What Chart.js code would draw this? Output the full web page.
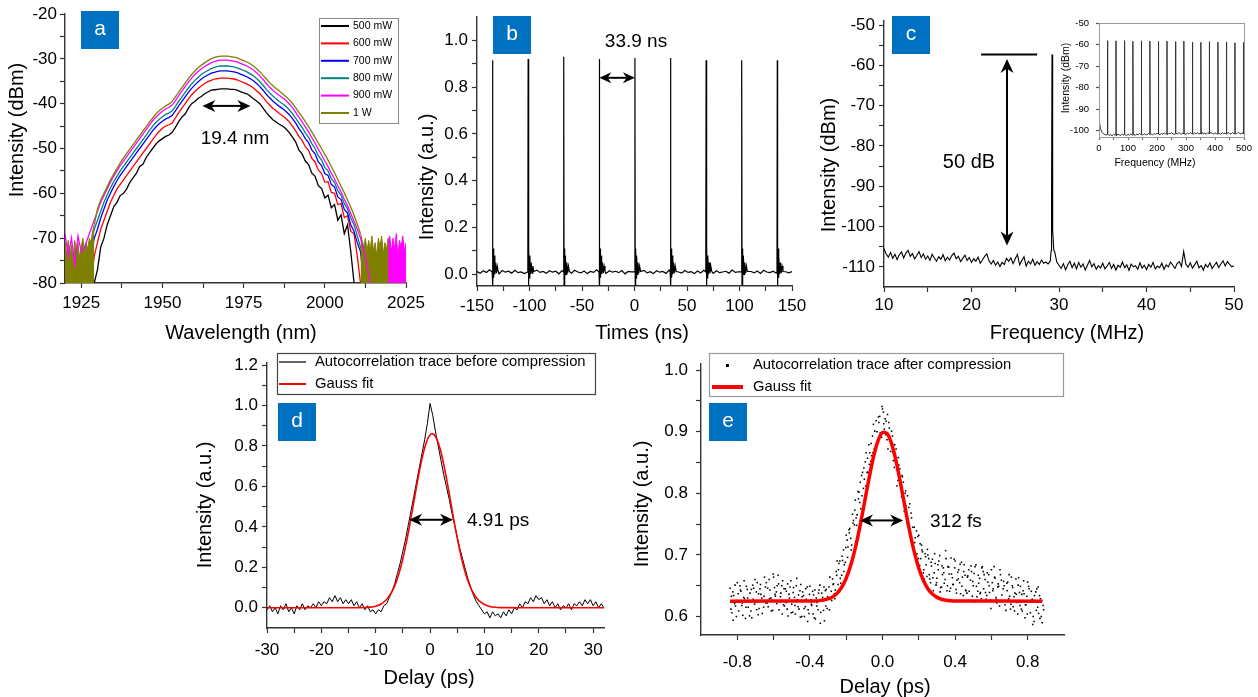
<!DOCTYPE html>
<html>
<head>
<meta charset="utf-8">
<script src="https://cdn.jsdelivr.net/npm/chart.js@4.4.1/dist/chart.umd.min.js"></script>
<style>
  html, body { margin: 0; padding: 0; background: #fff; }
  #page { position: relative; width: 1258px; height: 697px; overflow: hidden; background: #fff; }
  canvas { position: absolute; }
</style>
</head>
<body>
<div id="page">
  <canvas id="panelA" width="430" height="345" style="left:0px;top:0px"></canvas>
  <canvas id="panelB" width="410" height="345" style="left:400px;top:0px"></canvas>
  <canvas id="panelC" width="448" height="345" style="left:810px;top:0px"></canvas>
  <canvas id="panelInset" width="218" height="160" style="left:1040px;top:10px"></canvas>
  <canvas id="panelD" width="440" height="352" style="left:180px;top:345px"></canvas>
  <canvas id="panelE" width="450" height="352" style="left:620px;top:345px"></canvas>
</div>
<script>
// ------- (a) spectra vs pump power -------
const wlStart = 1920;
const aNames = ["500 mW", "600 mW", "700 mW", "800 mW", "900 mW", "1 W"];
const aColors = ["#000000", "#ff0000", "#0000ff", "#008080", "#ff00ff", "#808000"];
const aP500 = [null, null, null, null, null, null, null, null, null,
  -80, -77, -72, -70, -67, -65, -63, -62, -60.5, -60,
  -59, -57.5, -56.5, -55.5, -54, -53.5, -52, -51, -50, -49,
  -48.3, -47.8, -47.3, -47, -46.4, -45.3, -44, -43, -42.3, -41,
  -40, -39.5, -38.8, -38.4, -37.8, -37.4, -37, -36.9, -36.8, -36.7,
  -36.7, -36.7, -36.8, -36.8, -37, -37.3, -37.6, -37.8, -38.3, -38.9,
  -39.4, -40, -41, -42, -42.8, -43.6, -44.1, -44.6, -45, -45.6,
  -46.4, -47.4, -48.5, -50.3, -51.2, -52.8, -53.6, -55.5, -56.2, -58.3,
  -58.9, -61, -60.4, -63.2, -62.5, -66, -64.8, -69, -67, -73,
  -80,
  null, null, null, null, null, null, null, null, null, null, null, null, null, null, null, null];
const aP600 = [null, null, null, null, null, null, null, null,
  -80, -74, -71, -68, -66, -64, -62, -60.5, -59, -58,
  -57, -56, -55, -54, -53, -52, -51, -50, -49, -48,
  -47, -46.2, -45.5, -45, -44.7, -44.3, -43.2, -42, -41, -40,
  -39, -38, -37.3, -36.6, -36, -35.5, -35.1, -34.8, -34.5, -34.4,
  -34.3, -34.3, -34.3, -34.4, -34.5, -34.7, -35, -35.3, -35.6, -36,
  -36.5, -37.1, -37.8, -38.6, -39.5, -40.3, -41, -41.6, -42.2, -42.7,
  -43.3, -44, -45, -46, -47.3, -48.2, -49.6, -50.4, -52.2, -53,
  -54.8, -55.6, -57.5, -57.4, -59.8, -60, -62.5, -62.3, -65.4, -65,
  -68.5, -69, -74, -80,
  null, null, null, null, null, null, null, null, null, null, null, null, null, null];
const aP700 = [null, null, null, null, null, null, null,
  -80, -74, -70, -68, -65.5, -63.5, -61.5, -60, -58.5, -57.2,
  -56, -55, -54, -53, -52, -51, -50, -49, -48, -47,
  -46, -45.2, -44.5, -43.9, -43.4, -43.1, -42.6, -41.6, -40.5, -39.5,
  -38.5, -37.5, -36.6, -35.8, -35.1, -34.5, -34, -33.6, -33.2, -33,
  -32.8, -32.7, -32.7, -32.7, -32.8, -32.9, -33.1, -33.4, -33.7, -34,
  -34.4, -34.9, -35.5, -36.2, -37, -37.9, -38.7, -39.4, -40, -40.6,
  -41.1, -41.7, -42.4, -43.3, -44.3, -45.5, -46.5, -47.8, -48.7, -50.3,
  -51.2, -53, -53.8, -55.6, -56, -58, -58.6, -60.8, -61.4, -63.6,
  -64.4, -67, -68.5, -71, -73, -80,
  null, null, null, null, null, null, null, null, null, null, null, null, null];
const aP800 = [null, null, null, null, null, null,
  -80, -74, -71, -68, -66, -64, -62, -60.3, -58.8, -57.4,
  -56.2, -55, -54, -53, -52, -51, -50, -49, -48, -47,
  -46, -45, -44.2, -43.5, -42.9, -42.4, -42.1, -41.6, -40.6, -39.5,
  -38.5, -37.5, -36.5, -35.6, -34.8, -34.1, -33.5, -33, -32.6, -32.2,
  -31.9, -31.7, -31.6, -31.6, -31.6, -31.7, -31.8, -32, -32.3, -32.6,
  -32.9, -33.3, -33.8, -34.4, -35.1, -35.9, -36.8, -37.6, -38.3, -38.9,
  -39.5, -40, -40.6, -41.3, -42.2, -43.2, -44.3, -45.3, -46.5, -47.5,
  -48.9, -50, -51.6, -52.6, -54.2, -55, -56.7, -57.6, -59.4, -60.4,
  -62.3, -63.5, -65.5, -67, -69.5, -72, -75, -80,
  null, null, null, null, null, null, null, null, null, null, null, null];
const aP900 = [
  -69, -74, -70, -76, -69.5, -73, -72, -70, -68, -66,
  -64, -62, -60.5, -59, -57.5, -56.2, -55, -53.8, -52.8, -51.8,
  -50.8, -49.8, -48.8, -47.8, -46.8, -45.8, -44.8, -43.8, -43, -42.3,
  -41.7, -41.2, -40.8, -40.3, -39.3, -38.2, -37.2, -36.2, -35.2, -34.3,
  -33.5, -32.8, -32.2, -31.7, -31.3, -30.9, -30.6, -30.4, -30.3, -30.3,
  -30.3, -30.4, -30.5, -30.7, -31, -31.3, -31.6, -32, -32.5, -33.1,
  -33.8, -34.6, -35.5, -36.3, -37, -37.6, -38.2, -38.7, -39.3, -40,
  -40.9, -41.9, -43, -44, -45.2, -46.3, -47.6, -48.8, -50.2, -51.4,
  -52.8, -54, -55.5, -56.8, -58.3, -59.7, -61.3, -62.8, -64.5, -66.2,
  -68, -70, -72.5, -76, -80, null, null, null, null, null,
  null, null, null, null, null, null];
const aP1000 = [null, null, null, null, null, null, null, null, null,
  -67,
  -63.5, -61.5, -60, -58.5, -57, -55.7, -54.5, -53.2, -52.1, -51.1,
  -50.1, -49.1, -48.1, -47.1, -46.1, -45.1, -44.1, -43.2, -42.3, -41.6,
  -41, -40.5, -40.1, -39.5, -38.5, -37.4, -36.4, -35.4, -34.4, -33.5,
  -32.7, -32, -31.4, -30.9, -30.4, -30, -29.7, -29.5, -29.4, -29.4,
  -29.4, -29.5, -29.6, -29.8, -30.1, -30.4, -30.7, -31.1, -31.6, -32.2,
  -32.9, -33.7, -34.5, -35.3, -36, -36.6, -37.2, -37.8, -38.4, -39.1,
  -39.9, -40.9, -41.9, -42.9, -44, -45.1, -46.3, -47.5, -48.8, -50,
  -51.3, -52.6, -54, -55.4, -56.9, -58.4, -59.9, -61.5, -63.1, -64.9,
  -66.9, -69,
  null, null, null, null, null, null, null, null, null, null, null, null, null, null];
// dense noise floor of the two highest powers (top edge, 0.5 nm step)
const floorStep = 0.5;
const floor1000LeftStart = 1920;
const floor1000Left = [-71, -73.5, -70.5, -74, -71.5, -75, -70.5, -73, -71, -74.5,
  -72, -70, -73, -71, -72.5, -70, -71, -68.5, -67];
const floor1000RightStart = 2011;
const floor1000Right = [-69, -70.5, -72, -70, -73, -70.5, -72.5, -69.5, -73, -71,
  -74, -70, -72, -69.5, -73.5, -71, -72.5, -70, -73, -80];
const floor900RightStart = 2019.5;
const floor900Right = [-71, -69.5, -73, -70, -72.5, -69, -74, -70.5, -72, -69.5, -73, -71];
const aTickX = [1925, 1950, 1975, 2000, 2025], aMinorX = [1937.5, 1962.5, 1987.5, 2012.5];
const aTickY = [-80, -70, -60, -50, -40, -30, -20], aMinorY = [-75, -65, -55, -45, -35, -25];

// ------- (b) pulse train -------
const bBaseStart = -150, bBaseStep = 3;
const bBaseline = [
  0.012, 0.004, 0.015, 0.008, 0.019, 0.006, 0.011, 0.002, 0.016, 0.009,
  0.013, 0.005, 0.017, 0.007, 0.010, 0.003, 0.014, 0.011, 0.006, 0.018,
  0.008, 0.012, 0.004, 0.015, 0.009, 0.013, 0.002, 0.016, 0.007, 0.011,
  0.005, 0.017, 0.010, 0.006, 0.014, 0.003, 0.012, 0.008, 0.019, 0.006,
  0.011, 0.004, 0.015, 0.009, 0.013, 0.007, 0.016, 0.002, 0.012, 0.010,
  0.005, 0.014, 0.008, 0.017, 0.006, 0.011, 0.003, 0.015, 0.009, 0.012,
  0.004, 0.018, 0.007, 0.013, 0.010, 0.005, 0.016, 0.008, 0.011, 0.003,
  0.014, 0.006, 0.017, 0.009, 0.012, 0.004, 0.015, 0.007, 0.010, 0.013,
  0.005, 0.018, 0.008, 0.011, 0.003, 0.016, 0.009, 0.012, 0.006, 0.014,
  0.004, 0.017, 0.010, 0.007, 0.013, 0.005, 0.015, 0.008, 0.011, 0.006,
  0.012];
const bPulseTime = [-135.2, -101.3, -67.4, -33.5, 0.4, 34.3, 68.2, 102.1, 136.0];
const bPulsePeak = [0.915, 0.92, 0.93, 0.92, 0.925, 0.925, 0.915, 0.915, 0.915];
// ringing after each pulse (offset in ns, level); offset 0 takes the pulse peak
const bRingDt = [-0.3, 0, 0.3, 0.7, 1.1, 1.6, 2.2, 2.9, 3.7, 4.5, 5.4];
const bRingVal = [0.01, 0, -0.055, 0.11, -0.015, 0.08, 0.0, 0.05, 0.005, 0.035, 0.012];
const bTickX = [-150, -100, -50, 0, 50, 100, 150], bMinorX = [-125, -75, -25, 25, 75, 125];
const bTickY = [0, 0.2, 0.4, 0.6, 0.8, 1.0], bMinorY = [0.1, 0.3, 0.5, 0.7, 0.9];

// ------- (c) RF spectrum -------
const cFreqStart = 10, cFreqStep = 0.25;
const cNoise = [
  -105.5, -106.8, -107.6, -106.4, -107.9, -106.9, -108.2, -107.0, -106.3, -107.8,
  -106.6, -105.9, -107.4, -106.7, -108.0, -107.2, -106.2, -107.7, -106.8, -108.1,
  -107.3, -108.4, -106.9, -107.8, -108.6, -107.5, -108.1, -107.0, -108.5, -107.6,
  -108.3, -107.2, -106.6, -108.0, -107.4, -108.7, -107.9, -107.1, -108.4, -107.7,
  -108.9, -108.0, -108.6, -107.6, -109.1, -108.3, -107.4, -106.8, -108.5, -109.3,
  -108.4, -109.6, -108.8, -109.9, -108.9, -109.4, -107.9, -108.6, -107.8, -109.2,
  -108.0, -106.9, -109.5, -108.4, -107.5, -109.8, -108.6, -109.3, -108.1, -109.6,
  -108.7, -109.4, -108.3, -109.1, -108.8, -109.3, -108.6, -84.0, -106.2, -108.8,
  -109.6, -110.4, -109.2, -110.7, -109.5, -108.6, -110.2, -109.1, -110.5, -108.9,
  -110.1, -109.3, -110.8, -109.6, -108.4, -110.0, -109.2, -110.6, -109.7, -110.3,
  -109.1, -110.5, -109.8, -108.9, -110.4, -109.4, -110.8, -109.6, -110.1, -108.8,
  -110.2, -109.5, -110.9, -109.3, -110.0, -109.7, -110.6, -109.0, -110.3, -109.6,
  -110.7, -109.4, -110.1, -108.9, -110.5, -109.8, -110.2, -109.1, -110.6, -109.5,
  -110.0, -108.8, -109.6, -110.4, -109.2, -108.7, -109.9, -106.2, -109.3, -110.1,
  -109.0, -110.3, -109.5, -108.6, -110.2, -109.7, -110.8, -109.4, -110.1, -109.0,
  -110.4, -109.6, -108.9, -110.2, -109.3, -108.5, -109.8, -108.7, -109.4, -110.0,
  -109.7];
const cSpikeFreq = [29.1, 29.15, 29.2, 29.3, 29.4];
const cSpikeLevel = [-106, -92, -57.3, -101, -105.8];
const cTickX = [10, 20, 30, 40, 50], cMinorX = [15, 25, 35, 45];
const cTickY = [-110, -100, -90, -80, -70, -60, -50], cMinorY = [-105, -95, -85, -75, -65, -55];

// inset: wide span
const insetStep = 5;
const insetBase = [
  -95.0, -99.0, -100.8, -101.5, -101.8, -102.2, -101.7, -102.3, -101.9, -102.4,
  -101.8, -102.1, -102.5, -101.7, -102.0, -102.3, -101.6, -102.2, -101.9, -102.4,
  -101.8, -102.1, -101.5, -102.2, -101.8, -102.3, -101.6, -102.0, -101.4, -101.9,
  -102.2, -101.5, -101.8, -102.1, -101.3, -101.9, -101.6, -102.0, -101.4, -101.8,
  -101.2, -101.7, -102.0, -101.4, -101.7, -101.1, -101.6, -101.9, -101.3, -101.6,
  -101.0, -101.5, -101.8, -101.2, -101.6, -101.0, -101.4, -101.7, -101.1, -101.5,
  -101.8, -101.2, -101.6, -100.9, -101.4, -101.7, -101.1, -101.5, -101.0, -101.6,
  -101.3, -100.9, -101.5, -101.2, -101.7, -101.0, -101.4, -100.8, -101.3, -101.6,
  -101.1, -101.5, -100.9, -101.3, -101.7, -101.0, -101.4, -101.2, -101.6, -100.9,
  -101.3, -101.7, -101.0, -101.4, -101.1, -101.5, -100.8, -101.3, -101.6, -101.0,
  -101.2];
const insetSpikeFreq = [29.3, 58.6, 87.9, 117.2, 146.5, 175.8, 205.1, 234.4, 263.7,
  293.0, 322.3, 351.6, 380.9, 410.2, 439.5, 468.8, 498.1];
const insetSpikePeak = [-58.2, -58.3, -58.2, -58.5, -58.3, -58.4, -58.5, -58.4, -58.6,
  -58.4, -58.9, -59.0, -58.7, -58.9, -58.8, -59.2, -59.0];
const insetSpikeFoot = -101.6;
const iTickX = [0, 100, 200, 300, 400, 500], iMinorX = [50, 150, 250, 350, 450];
const iTickY = [-100, -90, -80, -70, -60, -50];

// ------- (d) autocorrelation before compression -------
const dDelayStart = -30, dDelayStep = 0.5;
const dTrace = [
  -0.01, 0.01, -0.02, 0.0, -0.03, 0.01, -0.01, 0.02, -0.02, 0.0,
  -0.03, 0.01, -0.01, 0.02, -0.01, 0.01, 0.0, 0.02, 0.0, 0.03,
  0.01, 0.03, 0.02, 0.05, 0.03, 0.06, 0.03, 0.05, 0.02, 0.04,
  0.02, 0.04, 0.01, 0.03, 0.0, 0.02, -0.01, 0.01, -0.02, -0.01,
  -0.03, -0.01, -0.02, 0.01, 0.02, 0.05, 0.08, 0.12, 0.17, 0.22,
  0.28, 0.34, 0.41, 0.48, 0.55, 0.62, 0.69, 0.76, 0.83, 0.91,
  1.01, 0.95, 0.87, 0.80, 0.73, 0.66, 0.60, 0.54, 0.47, 0.41,
  0.35, 0.29, 0.24, 0.19, 0.14, 0.10, 0.06, 0.03, 0.01, -0.01,
  -0.03, -0.02, -0.05, -0.02, -0.04, -0.03, -0.05, -0.02, -0.04, -0.01,
  -0.03, 0.0, -0.01, 0.02, 0.0, 0.03, 0.02, 0.05, 0.03, 0.06,
  0.04, 0.05, 0.02, 0.04, 0.01, 0.03, 0.0, 0.02, -0.01, 0.01,
  0.0, 0.02, -0.01, 0.02, 0.01, 0.03, 0.01, 0.04, 0.02, 0.04,
  0.01, 0.03, 0.0, 0.02, 0.0];
const dFitDelay = [-30, -20, -14, -12, -11, -10, -9,
  -8, -7.5, -7, -6.5, -6, -5.5, -5, -4.5, -4, -3.5, -3, -2.5, -2, -1.5, -1, -0.5,
  0, 0.5, 1, 1.5, 2, 2.5, 3, 3.5, 4, 4.5, 5, 5.5, 6, 6.5, 7, 7.5, 8, 8.5,
  9, 10, 11, 12, 13, 20, 32];
const dFitVal = [0, 0, 0.0001, 0.0011, 0.0031, 0.008, 0.0188,
  0.0407, 0.0579, 0.0806, 0.1097, 0.1462, 0.1908, 0.2437, 0.3044, 0.3722, 0.4454, 0.5216, 0.5977, 0.6704, 0.7357, 0.7901, 0.8304,
  0.8541, 0.8596, 0.8467, 0.8161, 0.7699, 0.7107, 0.642, 0.5675, 0.491, 0.4156, 0.3444, 0.2792, 0.2215, 0.172, 0.1307, 0.0972, 0.0707, 0.0503,
  0.0351, 0.016, 0.0067, 0.0026, 0.0009, 0, 0];
const dTickX = [-30, -20, -10, 0, 10, 20, 30], dMinorX = [-25, -15, -5, 5, 15, 25];
const dTickY = [0, 0.2, 0.4, 0.6, 0.8, 1.0, 1.2], dMinorY = [0.1, 0.3, 0.5, 0.7, 0.9, 1.1];

// ------- (e) autocorrelation after compression -------
const eDelayStart = -0.84, eDelayStep = 0.01;
const eDotShift = [0, 0.005, 0.0075];
const eDotsA = [
  0.646, 0.606, 0.634, 0.617, 0.655, 0.624, 0.641, 0.602, 0.629, 0.649,
  0.615, 0.638, 0.598, 0.646, 0.623, 0.655, 0.613, 0.636, 0.624, 0.664,
  0.655, 0.616, 0.643, 0.626, 0.664, 0.633, 0.650, 0.611, 0.638, 0.658,
  0.617, 0.641, 0.601, 0.648, 0.620, 0.647, 0.604, 0.627, 0.612, 0.652,
  0.640, 0.600, 0.628, 0.611, 0.649, 0.618, 0.635, 0.596, 0.623, 0.643,
  0.607, 0.631, 0.593, 0.644, 0.628, 0.664, 0.626, 0.653, 0.643, 0.690,
  0.686, 0.654, 0.691, 0.684, 0.732, 0.713, 0.743, 0.716, 0.756, 0.789,
  0.765, 0.802, 0.775, 0.834, 0.823, 0.866, 0.834, 0.866, 0.861, 0.912,
  0.872, 0.900, 0.915, 0.896, 0.937, 0.904, 0.917, 0.872, 0.891, 0.901,
  0.853, 0.865, 0.812, 0.846, 0.809, 0.827, 0.771, 0.780, 0.753, 0.783,
  0.760, 0.710, 0.728, 0.702, 0.732, 0.694, 0.705, 0.661, 0.684, 0.700,
  0.661, 0.682, 0.642, 0.686, 0.662, 0.690, 0.647, 0.668, 0.654, 0.694,
  0.681, 0.641, 0.669, 0.652, 0.690, 0.659, 0.676, 0.637, 0.664, 0.684,
  0.642, 0.666, 0.626, 0.673, 0.650, 0.681, 0.632, 0.654, 0.639, 0.681,
  0.668, 0.628, 0.656, 0.639, 0.676, 0.645, 0.662, 0.622, 0.649, 0.668,
  0.626, 0.650, 0.610, 0.656, 0.633, 0.664, 0.616, 0.638, 0.623, 0.663,
  0.649, 0.609, 0.637, 0.619, 0.656, 0.624, 0.641, 0.600, 0.626, 0.645,
  0.605, 0.629, 0.590];
const eDotsB = [
  0.612, 0.640, 0.621, 0.600, 0.637, 0.650, 0.618, 0.631, 0.597, 0.644,
  0.626, 0.609, 0.651, 0.620, 0.640, 0.603, 0.645, 0.630, 0.615, 0.648,
  0.622, 0.660, 0.630, 0.610, 0.647, 0.640, 0.667, 0.624, 0.650, 0.619,
  0.645, 0.612, 0.636, 0.658, 0.607, 0.631, 0.650, 0.616, 0.642, 0.600,
  0.634, 0.616, 0.648, 0.605, 0.627, 0.641, 0.598, 0.630, 0.611, 0.651,
  0.638, 0.610, 0.642, 0.613, 0.648, 0.629, 0.661, 0.637, 0.673, 0.652,
  0.690, 0.667, 0.708, 0.688, 0.724, 0.741, 0.727, 0.766, 0.749, 0.760,
  0.803, 0.785, 0.829, 0.808, 0.851, 0.834, 0.879, 0.852, 0.893, 0.872,
  0.918, 0.883, 0.925, 0.891, 0.932, 0.921, 0.887, 0.915, 0.868, 0.893,
  0.842, 0.872, 0.821, 0.840, 0.794, 0.818, 0.800, 0.752, 0.777, 0.730,
  0.718, 0.745, 0.699, 0.730, 0.683, 0.716, 0.671, 0.702, 0.665, 0.694,
  0.655, 0.693, 0.671, 0.651, 0.684, 0.699, 0.648, 0.679, 0.660, 0.642,
  0.680, 0.646, 0.663, 0.693, 0.644, 0.672, 0.655, 0.688, 0.634, 0.667,
  0.638, 0.676, 0.659, 0.633, 0.670, 0.684, 0.641, 0.662, 0.629, 0.673,
  0.660, 0.634, 0.668, 0.627, 0.655, 0.681, 0.631, 0.648, 0.617, 0.659,
  0.645, 0.619, 0.654, 0.629, 0.612, 0.650, 0.632, 0.661, 0.604, 0.639,
  0.612, 0.642, 0.598, 0.633, 0.649, 0.606, 0.628, 0.592, 0.640, 0.615,
  0.634, 0.600, 0.618];
const eDotsC = [
  0.633, 0.594, 0.651, 0.626, 0.609, 0.643, 0.622, 0.658, 0.615, 0.630,
  0.601, 0.644, 0.628, 0.660, 0.611, 0.637, 0.652, 0.605, 0.633, 0.622,
  0.646, 0.629, 0.609, 0.669, 0.636, 0.621, 0.653, 0.632, 0.604, 0.645,
  0.623, 0.653, 0.630, 0.606, 0.639, 0.618, 0.662, 0.635, 0.599, 0.632,
  0.613, 0.645, 0.592, 0.636, 0.620, 0.604, 0.643, 0.617, 0.638, 0.589,
  0.627, 0.648, 0.617, 0.632, 0.611, 0.641, 0.652, 0.629, 0.667, 0.676,
  0.662, 0.698, 0.673, 0.712, 0.696, 0.736, 0.708, 0.752, 0.773, 0.748,
  0.791, 0.818, 0.796, 0.841, 0.812, 0.857, 0.847, 0.881, 0.866, 0.901,
  0.881, 0.924, 0.898, 0.941, 0.913, 0.895, 0.928, 0.906, 0.879, 0.866,
  0.879, 0.838, 0.858, 0.817, 0.829, 0.786, 0.804, 0.796, 0.741, 0.768,
  0.745, 0.720, 0.739, 0.694, 0.718, 0.708, 0.676, 0.697, 0.709, 0.668,
  0.688, 0.663, 0.702, 0.655, 0.676, 0.640, 0.682, 0.671, 0.707, 0.650,
  0.669, 0.695, 0.652, 0.679, 0.638, 0.661, 0.685, 0.649, 0.673, 0.643,
  0.664, 0.641, 0.682, 0.657, 0.624, 0.649, 0.667, 0.637, 0.679, 0.645,
  0.639, 0.671, 0.650, 0.613, 0.642, 0.664, 0.628, 0.653, 0.676, 0.635,
  0.657, 0.625, 0.642, 0.668, 0.620, 0.647, 0.609, 0.636, 0.651, 0.618,
  0.636, 0.658, 0.619, 0.604, 0.645, 0.626, 0.587, 0.634, 0.610, 0.648,
  0.597, 0.626, 0.611];
const eFitDelay = [-0.84,
  -0.4, -0.375, -0.35, -0.325, -0.3, -0.275, -0.25, -0.225, -0.2, -0.175,
  -0.15, -0.125, -0.1, -0.075, -0.05, -0.025, 0, 0.025, 0.05, 0.075,
  0.1, 0.125, 0.15, 0.175, 0.2, 0.225, 0.25, 0.275, 0.3, 0.325,
  0.35, 0.375, 0.4, 0.88];
const eFitVal = [0.625,
  0.6251, 0.6253, 0.6258, 0.6267, 0.6285, 0.6319, 0.6378, 0.6475, 0.6622, 0.6832,
  0.7111, 0.7453, 0.7839, 0.8232, 0.8586, 0.8851, 0.8988, 0.8972, 0.8807, 0.852,
  0.8155, 0.776, 0.738, 0.705, 0.6785, 0.6588, 0.6452, 0.6364, 0.6311, 0.6281,
  0.6265, 0.6257, 0.6253, 0.625];
const eTickX = [-0.8, -0.4, 0, 0.4, 0.8], eMinorX = [-0.6, -0.2, 0.2, 0.6];
const eTickY = [0.6, 0.7, 0.8, 0.9, 1.0], eMinorY = [0.65, 0.75, 0.85, 0.95];

/* ****** DRAWING ****** */
const FONT = '"Liberation Sans", Arial, Helvetica, sans-serif';
Chart.defaults.font.family = FONT;
Chart.defaults.color = "#000";

// one linear axis with fixed ticks, fixed box size
function axis(o) {
  const all = o.major.concat(o.minor || []).sort((a, b) => a - b);
  return {
    type: "linear",
    min: o.min,
    max: o.max,
    afterBuildTicks: (s) => { s.ticks = all.map((v) => ({ value: v })); },
    afterFit: (s) => {
      if (o.horizontal) s.height = o.size; else s.width = o.size;
      s.paddingLeft = 0; s.paddingRight = 0; s.paddingTop = 0; s.paddingBottom = 0;
    },
    ticks: {
      autoSkip: false, maxRotation: 0, minRotation: 0,
      padding: o.pad,
      font: { size: o.font || 17 },
      color: "#000",
      callback: (v) => (o.major.some((m) => Math.abs(m - v) < 1e-9) ? Number(v).toFixed(o.digits || 0) : ""),
    },
    grid: { drawOnChartArea: false, drawTicks: true, tickLength: o.tick || 5, tickColor: o.color || "#333", tickWidth: 1.2 },
    border: { display: true, color: o.color || "#333", width: o.lw || 1.4 },
  };
}

function line(points, color, width, extra) {
  return Object.assign({ data: points, showLine: true, borderColor: color, borderWidth: width, pointRadius: 0, fill: false }, extra || {});
}

function makeChart(id, datasets, xs, ys, pad, draw) {
  const canvas = document.getElementById(id);
  return new Chart(canvas, {
    type: "scatter",
    data: { datasets: datasets },
    options: {
      responsive: false,
      devicePixelRatio: 1,
      animation: false,
      events: [],
      layout: { padding: pad },
      scales: { x: xs, y: ys },
      plugins: { legend: { display: false }, tooltip: { enabled: false } },
    },
    plugins: [{
      id: "deco",
      afterDraw: (c) => {
        const ctx = c.ctx;
        ctx.save();
        ctx.translate(-canvas.offsetLeft, -canvas.offsetTop); // draw in page coordinates
        draw(ctx, c);
        ctx.restore();
      },
    }],
  });
}

// page pixel of a data value
const PX = (c, v) => c.scales.x.getPixelForValue(v) + c.canvas.offsetLeft;
const PY = (c, v) => c.scales.y.getPixelForValue(v) + c.canvas.offsetTop;

function text(ctx, s, x, y, size, opt) {
  opt = opt || {};
  ctx.save();
  ctx.font = size + "px " + FONT;
  ctx.fillStyle = opt.color || "#000";
  ctx.textAlign = opt.align || "center";
  ctx.textBaseline = "middle";
  ctx.translate(x, y);
  if (opt.rotate) ctx.rotate(-Math.PI / 2);
  ctx.fillText(s, 0, 0);
  ctx.restore();
}

function arrow(ctx, x1, y1, x2, y2, head, hw) {
  head = head || 12; hw = hw || 5.5;
  const a = Math.atan2(y2 - y1, x2 - x1);
  ctx.save();
  ctx.strokeStyle = "#000"; ctx.fillStyle = "#000"; ctx.lineWidth = 2;
  ctx.beginPath();
  ctx.moveTo(x1 + Math.cos(a) * head * 0.7, y1 + Math.sin(a) * head * 0.7);
  ctx.lineTo(x2 - Math.cos(a) * head * 0.7, y2 - Math.sin(a) * head * 0.7);
  ctx.stroke();
  const tip = (x, y, ang) => {
    ctx.beginPath();
    ctx.moveTo(x, y);
    ctx.lineTo(x - head * Math.cos(ang) + hw * Math.sin(ang), y - head * Math.sin(ang) - hw * Math.cos(ang));
    ctx.lineTo(x - head * 0.7 * Math.cos(ang), y - head * 0.7 * Math.sin(ang));
    ctx.lineTo(x - head * Math.cos(ang) - hw * Math.sin(ang), y - head * Math.sin(ang) + hw * Math.cos(ang));
    ctx.closePath();
    ctx.fill();
  };
  tip(x2, y2, a);
  tip(x1, y1, a + Math.PI);
  ctx.restore();
}

function tag(ctx, s, x, y) {
  ctx.fillStyle = "#0070c0";
  ctx.fillRect(x, y, 38, 38);
  text(ctx, s, x + 19, y + 18, 21, { color: "#fff" });
}

// ------- panel a -------
const wavelength = aP500.map((_, i) => wlStart + i);
const aSeries = [aP500, aP600, aP700, aP800, aP900, aP1000];
const floorPts = (start, ys) => ys.map((y, i) => ({ x: start + i * floorStep, y: y }));
const aFloors = [
  line(floorPts(floor1000LeftStart, floor1000Left), aColors[5], 1, { fill: "start", backgroundColor: aColors[5], order: 2.5 }),
  line(floorPts(floor1000RightStart, floor1000Right), aColors[5], 1, { fill: "start", backgroundColor: aColors[5], order: 2.5 }),
  line(floorPts(floor900RightStart, floor900Right), aColors[4], 1, { fill: "start", backgroundColor: aColors[4], order: 2.4 }),
];
makeChart("panelA",
  aSeries.map((ys, i) => line(ys.map((y, k) => ({ x: wavelength[k], y: y })), aColors[i], 1.3, { order: 6 - i })).concat(aFloors),
  axis({ min: 1920, max: 2025, major: aTickX, minor: aMinorX, horizontal: true, size: 62, pad: 5 }),
  axis({ min: -80, max: -20, major: aTickY, minor: aMinorY, size: 65, pad: 3 }),
  { left: 0, right: 24, top: 14, bottom: 0 },
  (ctx, c) => {
    tag(ctx, "a", 81, 11);
    text(ctx, "Intensity (dBm)", 17, 130, 20, { rotate: true });
    text(ctx, "Wavelength (nm)", 241, 333, 20);
    arrow(ctx, PX(c, 1962.3), PY(c, -40.5), PX(c, 1977.1), PY(c, -40.5), 13, 6);
    text(ctx, "19.4 nm", 235, 139, 19);
    // legend
    ctx.fillStyle = "#fff"; ctx.fillRect(319, 18, 79, 105);
    ctx.strokeStyle = "#888"; ctx.lineWidth = 1; ctx.strokeRect(319.5, 18.5, 79, 105);
    aNames.forEach((n, i) => {
      const y = 26 + i * 17.4;
      ctx.strokeStyle = aColors[i]; ctx.lineWidth = 2;
      ctx.beginPath(); ctx.moveTo(321, y); ctx.lineTo(349, y); ctx.stroke();
      text(ctx, n, 353, y, 10.5, { align: "left" });
    });
  });

// ------- panel b -------
const bPoints = [];
bBaseline.forEach((v, i) => {
  const t = bBaseStart + i * bBaseStep;
  if (!bPulseTime.some((p) => t > p - 1 && t < p + 6)) bPoints.push({ x: t, y: v });
});
bPulseTime.forEach((p, i) => {
  bRingDt.forEach((dt, k) => bPoints.push({ x: p + dt, y: dt === 0 ? bPulsePeak[i] : bRingVal[k] }));
});
bPoints.sort((a, b) => a.x - b.x);
makeChart("panelB",
  [line(bPoints, "#000", 1.2)],
  axis({ min: -150, max: 150, major: bTickX, minor: bMinorX, horizontal: true, size: 59, pad: 5 }),
  axis({ min: -0.05, max: 1.1, major: bTickY, minor: bMinorY, size: 77, pad: 4, digits: 1 }),
  { left: 0, right: 18, top: 17, bottom: 0 },
  (ctx, c) => {
    tag(ctx, "b", 493, 16);
    text(ctx, "Intensity (a.u.)", 427, 177, 20, { rotate: true });
    text(ctx, "Times (ns)", 642, 333, 20);
    arrow(ctx, PX(c, bPulseTime[3]), PY(c, 0.84), PX(c, bPulseTime[4]), PY(c, 0.84), 12, 5.5);
    text(ctx, "33.9 ns", 636, 42, 19);
  });

// ------- panel c -------
const cPoints = cNoise.map((v, i) => ({ x: cFreqStart + i * cFreqStep, y: v }))
  .concat(cSpikeFreq.map((f, i) => ({ x: f, y: cSpikeLevel[i] })))
  .sort((a, b) => a.x - b.x);
makeChart("panelC",
  [line(cPoints, "#000", 1.1)],
  axis({ min: 10, max: 50, major: cTickX, minor: cMinorX, horizontal: true, size: 58, pad: 3 }),
  axis({ min: -115, max: -49, major: cTickY, minor: cMinorY, size: 74, pad: 4 }),
  { left: 0, right: 24, top: 21, bottom: 0 },
  (ctx, c) => {
    tag(ctx, "c", 892, 16);
    text(ctx, "Intensity (dBm)", 829, 165, 20, { rotate: true });
    text(ctx, "Frequency (MHz)", 1067, 333, 20);
    const top = PY(c, -57.3);
    ctx.strokeStyle = "#000"; ctx.lineWidth = 2;
    ctx.beginPath(); ctx.moveTo(PX(c, 21.1), top); ctx.lineTo(PX(c, 27.5), top); ctx.stroke();
    arrow(ctx, PX(c, 24.06), PY(c, -104.7), PX(c, 24.06), PY(c, -58.4), 14, 6.5);
    text(ctx, "50 dB", 969, 162, 20);
  });

// inset
const insetPoints = insetBase.map((v, i) => ({ x: i * insetStep, y: v }));
insetSpikeFreq.forEach((f, i) => {
  insetPoints.push({ x: f - 0.8, y: insetSpikeFoot }, { x: f, y: insetSpikePeak[i] }, { x: f + 0.8, y: insetSpikeFoot });
});
insetPoints.sort((a, b) => a.x - b.x);
makeChart("panelInset",
  [line(insetPoints, "#333", 1)],
  axis({ min: 0, max: 500, major: iTickX, minor: iMinorX, horizontal: true, size: 33, pad: 3, font: 9.5, tick: 3, color: "#777", lw: 1 }),
  axis({ min: -103, max: -50, major: iTickY, size: 59, pad: 7, font: 9.5, tick: 3, color: "#555", lw: 1 }),
  { left: 0, right: 14, top: 13, bottom: 0 },
  (ctx, c) => {
    const a = c.chartArea, ox = c.canvas.offsetLeft, oy = c.canvas.offsetTop;
    ctx.strokeStyle = "#999"; ctx.lineWidth = 1;
    ctx.strokeRect(a.left + ox + 0.5, a.top + oy + 0.5, a.right - a.left, a.bottom - a.top);
    text(ctx, "Intensity (dBm)", 1066, 78, 10.5, { rotate: true });
    text(ctx, "Frequency (MHz)", 1155, 163, 10.5);
  });

// ------- panel d -------
const dPoints = dTrace.map((v, i) => ({ x: dDelayStart + i * dDelayStep, y: v }));
const dFit = dFitDelay.map((x, i) => ({ x: x, y: dFitVal[i] }));
makeChart("panelD",
  [line(dFit, "#ff0000", 1.6, { order: 0, tension: 0.3 }), line(dPoints, "#000", 1, { order: 1 })],
  axis({ min: -30, max: 32, major: dTickX, minor: dMinorX, horizontal: true, size: 69, pad: 7 }),
  axis({ min: -0.1, max: 1.21, major: dTickY, minor: dMinorY, size: 87, pad: 4, digits: 1 }),
  { left: 0, right: 16, top: 18, bottom: 0 },
  (ctx, c) => {
    tag(ctx, "d", 278, 403);
    text(ctx, "Intensity (a.u.)", 205, 505, 20, { rotate: true });
    text(ctx, "Delay (ps)", 429, 678, 20);
    ctx.fillStyle = "#fff"; ctx.fillRect(277, 353, 318, 41);
    ctx.strokeStyle = "#444"; ctx.lineWidth = 1.2; ctx.strokeRect(277.5, 353.5, 318, 41);
    ctx.strokeStyle = "#000"; ctx.lineWidth = 1.2;
    ctx.beginPath(); ctx.moveTo(279, 362); ctx.lineTo(306, 362); ctx.stroke();
    ctx.strokeStyle = "#ff0000"; ctx.lineWidth = 2;
    ctx.beginPath(); ctx.moveTo(279, 384); ctx.lineTo(306, 384); ctx.stroke();
    text(ctx, "Autocorrelation trace before compression", 315, 362, 14.8, { align: "left" });
    text(ctx, "Gauss fit", 315, 384, 14.8, { align: "left" });
    arrow(ctx, PX(c, -3.86), PY(c, 0.435), PX(c, 4.23), PY(c, 0.435), 13, 6);
    text(ctx, "4.91 ps", 467, 521, 19, { align: "left" });
  });

// ------- panel e -------
const eDots = [eDotsA, eDotsB, eDotsC].flatMap((arr, j) =>
  arr.map((y, i) => ({ x: eDelayStart + i * eDelayStep + eDotShift[j], y: y })));
const eFit = eFitDelay.map((x, i) => ({ x: x, y: eFitVal[i] }));
makeChart("panelE",
  [line(eFit, "#ff0000", 3.5, { order: 0, tension: 0.3 }),
   { data: eDots, showLine: false, pointRadius: 1.1, pointStyle: "rect", pointBackgroundColor: "#000", pointBorderWidth: 0, order: 1 }],
  axis({ min: -1, max: 1, major: eTickX, minor: eMinorX, horizontal: true, size: 62, pad: 12, digits: 1 }),
  axis({ min: 0.57, max: 1.01, major: eTickY, minor: eMinorY, size: 81, pad: 8, digits: 1 }),
  { left: 0, right: 6, top: 19, bottom: 0 },
  (ctx, c) => {
    tag(ctx, "e", 709, 403);
    text(ctx, "Intensity (a.u.)", 642, 504, 20, { rotate: true });
    text(ctx, "Delay (ps)", 885, 687, 20);
    ctx.fillStyle = "#fff"; ctx.fillRect(709, 353, 354, 43);
    ctx.strokeStyle = "#999"; ctx.lineWidth = 1.2; ctx.strokeRect(709.5, 353.5, 354, 43);
    ctx.fillStyle = "#000"; ctx.fillRect(726, 364, 3, 3);
    ctx.strokeStyle = "#ff0000"; ctx.lineWidth = 4;
    ctx.beginPath(); ctx.moveTo(712, 387); ctx.lineTo(743, 387); ctx.stroke();
    text(ctx, "Autocorrelation trace after compression", 753, 365, 14.8, { align: "left" });
    text(ctx, "Gauss fit", 753, 387, 14.8, { align: "left" });
    arrow(ctx, PX(c, -0.124), PY(c, 0.756), PX(c, 0.114), PY(c, 0.756), 13, 6);
    text(ctx, "312 fs", 930, 522, 19, { align: "left" });
  });
</script>
</body>
</html>
